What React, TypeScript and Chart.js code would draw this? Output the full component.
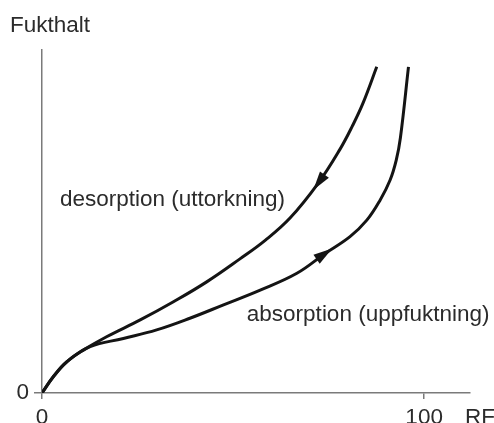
import React, { useEffect, useRef } from "react";
import { Chart, registerables } from "chart.js";

Chart.register(...registerables);

// ---- data ----
const xTickValues = [0, 100];
const yTickValues = [0];
const xTitle = "RF";
const yTitle = "Fukthalt";
const desorptionLabel = "desorption (uttorkning)";
const absorptionLabel = "absorption (uppfuktning)";

const desorptionX = [0, 3.0, 6.5, 10.8, 16.9, 25.7, 34.4, 43.1, 51.8, 58.4, 64.9, 72.3, 78.0, 81.2, 84.0, 87.6];
const desorptionY = [0, 4.8, 9.1, 12.5, 16.4, 21.3, 26.6, 32.4, 39.1, 44.5, 51.0, 61.2, 71.1, 77.8, 84.5, 95.1];
const absorptionX = [0, 3.0, 6.5, 12.6, 21.3, 30.0, 38.7, 47.5, 57.1, 66.7, 74.1, 80.6, 85.0, 88.5, 91.1, 92.7, 93.8, 95.9];
const absorptionY = [0, 4.8, 9.1, 13.5, 15.9, 18.4, 21.8, 25.7, 30.0, 34.9, 40.7, 45.6, 50.4, 56.3, 62.1, 67.9, 74.5, 95.1];

// arrow markers: index into series
const desorptionArrowIndex = 11;
const absorptionArrowIndex = 10;

const FONT = "'Liberation Sans', Arial, Helvetica, sans-serif";
const TEXT = "#2b2b2b";
const AXIS = "#7a7a7a";
const LINE = "#141414";

const annotationPlugin = {
  id: "annotations",
  afterDatasetsDraw(chart: any) {
    const ctx = chart.ctx;
    const xs = chart.scales.x;
    const ys = chart.scales.y;
    const area = chart.chartArea;

    const drawArrow = (dsIndex: number, idx: number, dir: number) => {
      const pts: any[] = chart.getDatasetMeta(dsIndex).data;
      const prev = pts[idx - 1];
      const next = pts[idx + 1];
      const pt = pts[idx];
      let dx = (next.x - prev.x) * dir;
      let dy = (next.y - prev.y) * dir;
      const len = Math.hypot(dx, dy) || 1;
      dx /= len;
      dy /= len;
      const L = 19;
      const W = 5.5;
      const tipX = pt.x + dx * (L * 0.45);
      const tipY = pt.y + dy * (L * 0.45);
      const baseX = pt.x - dx * (L * 0.55);
      const baseY = pt.y - dy * (L * 0.55);
      ctx.save();
      ctx.fillStyle = LINE;
      ctx.beginPath();
      ctx.moveTo(tipX, tipY);
      ctx.lineTo(baseX - dy * W, baseY + dx * W);
      ctx.lineTo(baseX + dy * W, baseY - dx * W);
      ctx.closePath();
      ctx.fill();
      ctx.restore();
    };
    drawArrow(0, desorptionArrowIndex, -1);
    drawArrow(1, absorptionArrowIndex, 1);

    ctx.save();
    ctx.fillStyle = TEXT;
    ctx.font = `22.5px ${FONT}`;
    ctx.textBaseline = "alphabetic";
    ctx.textAlign = "left";
    ctx.fillText(yTitle, area.left - 32, area.top - 18);
    ctx.fillText(desorptionLabel, xs.getPixelForValue(4.7), ys.getPixelForValue(54.5));
    ctx.fillText(absorptionLabel, xs.getPixelForValue(53.6), ys.getPixelForValue(21.0));
    ctx.fillText(xTitle, area.right - 5, area.bottom + 31);
    ctx.restore();
  },
};

export default function App() {
  const ref = useRef<HTMLCanvasElement | null>(null);

  useEffect(() => {
    if (!ref.current) return;
    const toPts = (xa: number[], ya: number[]) => xa.map((x, i) => ({ x, y: ya[i] }));
    const chart = new Chart(ref.current, {
      type: "line",
      data: {
        datasets: [
          {
            label: desorptionLabel,
            data: toPts(desorptionX, desorptionY),
            borderColor: LINE,
            borderWidth: 3,
            borderCapStyle: "butt",
            pointRadius: 0,
            tension: 0.4,
            fill: false,
          },
          {
            label: absorptionLabel,
            data: toPts(absorptionX, absorptionY),
            borderColor: LINE,
            borderWidth: 3,
            borderCapStyle: "butt",
            pointRadius: 0,
            tension: 0.4,
            fill: false,
          },
        ],
      },
      options: {
        animation: false,
        responsive: false,
        devicePixelRatio: 1,
        layout: { padding: { top: 50, right: 24, left: 0, bottom: 0 } },
        plugins: {
          legend: { display: false },
          tooltip: { enabled: false },
          title: { display: false },
        },
        scales: {
          x: {
            type: "linear",
            min: 0,
            max: 112,
            afterBuildTicks: (s: any) => {
              s.ticks = xTickValues.map((v) => ({ value: v }));
            },
            afterFit: (s: any) => {
              s.height = 47;
            },
            ticks: {
              font: { family: FONT, size: 22.5 },
              color: TEXT,
              padding: 5,
              autoSkip: false,
              maxRotation: 0,
              callback: (v: any) => String(v),
            },
            grid: {
              display: true,
              drawOnChartArea: false,
              drawTicks: true,
              tickLength: 6,
              color: AXIS,
              lineWidth: 1.5,
            },
            border: { display: true, color: AXIS, width: 1.5 },
          },
          y: {
            type: "linear",
            min: 0,
            max: 100,
            afterBuildTicks: (s: any) => {
              s.ticks = yTickValues.map((v) => ({ value: v }));
            },
            afterFit: (s: any) => {
              s.width = 42;
            },
            ticks: {
              font: { family: FONT, size: 22.5 },
              color: TEXT,
              padding: 5,
              autoSkip: false,
              callback: (v: any) => String(v),
            },
            grid: {
              display: true,
              drawOnChartArea: false,
              drawTicks: true,
              tickLength: 8,
              color: AXIS,
              lineWidth: 1.5,
            },
            border: { display: true, color: AXIS, width: 1.5 },
          },
        },
      },
      plugins: [annotationPlugin],
    } as any);
    return () => chart.destroy();
  }, []);

  return (
    <div style={{ position: "fixed", left: 0, top: 0, width: 494, height: 440, background: "#fff" }}>
      <canvas ref={ref} width={494} height={440} style={{ width: 494, height: 440, display: "block" }} />
    </div>
  );
}
